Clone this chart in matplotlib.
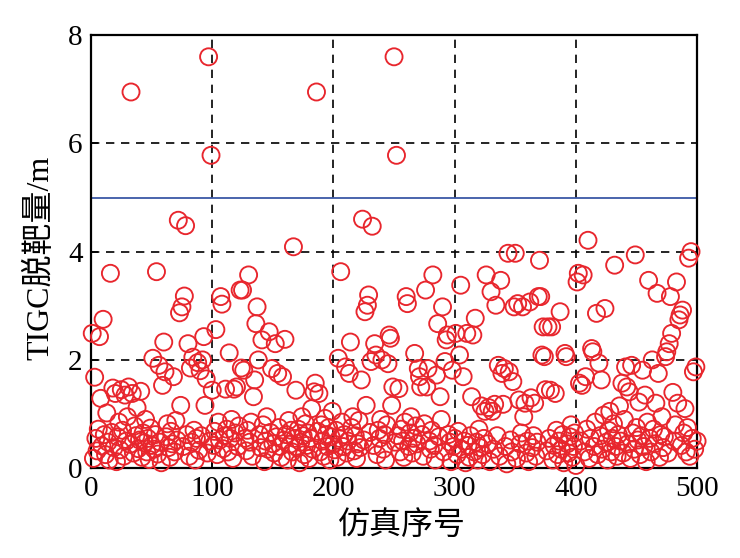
import matplotlib
matplotlib.use("Agg")
import matplotlib.pyplot as plt
import numpy as np

# simulation index 1..500 and miss distance (m)
sim_index = list(range(1, 501))
miss = [
    2.49, 0.18, 1.68, 0.55, 0.32, 0.72, 2.43, 1.29, 0.41, 2.75,
    0.62, 0.25, 1.02, 0.48, 0.15, 3.60, 0.66, 1.48, 0.38, 1.38,
    0.12, 0.58, 0.85, 0.34, 1.45, 0.70, 0.22, 1.35, 0.50, 0.95,
    1.50, 0.44, 6.95, 1.38, 0.28, 0.78, 0.60, 1.12, 0.36, 0.52,
    1.42, 0.20, 0.65, 0.47, 0.90, 0.30, 0.55, 0.16, 0.74, 0.42,
    2.03, 0.35, 0.62, 3.63, 0.26, 1.90, 0.48, 0.10, 1.53, 2.33,
    1.78, 0.58, 0.82, 0.38, 0.20, 0.68, 0.45, 1.69, 0.30, 0.88,
    0.52, 4.58, 2.87, 1.16, 2.98, 0.40, 3.18, 4.48, 0.62, 2.30,
    0.22, 1.85, 0.48, 2.05, 0.70, 0.15, 0.55, 1.95, 0.33, 1.80,
    0.60, 2.00, 2.43, 1.16, 1.65, 0.28, 7.60, 0.50, 5.78, 1.44,
    0.42, 0.68, 2.56, 0.25, 0.85, 0.52, 3.17, 3.03, 0.36, 0.60,
    1.46, 0.72, 0.30, 2.13, 0.55, 0.90, 0.18, 1.46, 0.65, 1.50,
    0.40, 0.78, 3.29, 1.85, 3.29, 1.81, 0.55, 0.32, 0.70, 3.57,
    0.48, 0.85, 0.22, 1.32, 1.63, 2.67, 2.98, 2.00, 0.62, 0.38,
    2.37, 0.80, 0.12, 0.50, 0.95, 0.35, 2.52, 0.66, 1.84, 0.45,
    0.28, 2.30, 0.58, 1.75, 0.75, 0.40, 0.20, 1.69, 0.52, 2.38,
    0.62, 0.15, 0.88, 0.44, 0.70, 0.30, 4.09, 0.55, 1.44, 0.38,
    0.72, 0.10, 0.48, 0.95, 0.60, 0.25, 0.82, 0.42, 0.65, 0.18,
    0.55, 1.10, 0.35, 1.41, 1.57, 6.95, 0.68, 1.38, 0.30, 0.80,
    0.50, 0.22, 0.92, 0.62, 0.40, 0.75, 0.15, 0.58, 1.05, 0.45,
    0.34, 0.70, 0.20, 2.03, 0.55, 3.63, 0.85, 0.40, 0.62, 1.87,
    0.28, 0.50, 1.75, 2.33, 0.75, 0.95, 0.32, 0.60, 0.18, 0.45,
    0.88, 0.38, 1.63, 4.60, 0.52, 2.89, 1.16, 3.01, 3.20, 0.66,
    1.97, 4.47, 0.42, 2.30, 2.09, 0.25, 0.70, 0.55, 0.90, 2.00,
    0.35, 0.62, 0.15, 0.80, 1.93, 2.46, 2.40, 1.16, 1.50, 7.60,
    0.48, 5.78, 0.60, 1.47, 0.30, 0.72, 0.50, 0.20, 0.85, 3.17,
    3.04, 0.40, 0.65, 0.95, 0.28, 0.55, 2.12, 0.78, 0.45, 1.84,
    1.69, 1.50, 0.62, 0.22, 0.82, 3.29, 1.50, 1.84, 0.50, 0.35,
    0.70, 3.57, 0.42, 0.15, 1.72, 2.67, 0.58, 1.32, 0.90, 2.98,
    0.30, 1.97, 2.37, 2.46, 0.62, 0.48, 0.12, 1.81, 0.40, 0.55,
    2.49, 0.25, 0.68, 2.09, 3.38, 0.35, 1.69, 0.50, 0.10, 2.49,
    0.42, 0.20, 0.60, 1.32, 2.46, 0.30, 2.77, 0.48, 0.15, 0.72,
    0.38, 1.15, 0.25, 0.55, 1.05, 3.57, 0.45, 1.12, 0.12, 3.26,
    1.05, 0.35, 1.18, 3.01, 0.60, 1.90, 0.22, 3.47, 1.75, 1.18,
    1.84, 0.40, 0.08, 3.97, 1.78, 0.52, 0.30, 1.60, 2.98, 3.97,
    0.18, 3.04, 1.26, 0.45, 0.65, 2.98, 0.95, 1.20, 0.28, 0.50,
    0.12, 3.07, 1.30, 0.38, 0.60, 1.20, 0.22, 0.48, 3.17, 3.84,
    3.17, 2.09, 2.61, 2.06, 1.45, 0.32, 2.61, 0.55, 1.44, 2.61,
    0.15, 0.42, 1.38, 0.70, 0.25, 0.50, 2.89, 0.35, 0.62, 0.10,
    2.12, 2.06, 0.45, 0.28, 0.58, 0.80, 0.20, 0.40, 0.65, 0.05,
    3.44, 3.60, 1.57, 0.50, 1.53, 3.57, 0.30, 1.69, 0.72, 4.21,
    0.18, 0.55, 2.21, 2.15, 0.40, 0.85, 2.86, 0.25, 1.94, 0.60,
    1.63, 0.35, 0.98, 2.95, 0.48, 0.15, 0.70, 1.05, 0.30, 0.55,
    0.82, 3.75, 0.40, 0.22, 0.62, 1.15, 0.50, 1.57, 0.28, 0.90,
    1.87, 1.50, 0.45, 1.41, 0.18, 1.90, 0.65, 0.35, 3.94, 0.75,
    0.52, 1.22, 0.25, 0.60, 1.81, 0.40, 1.35, 0.12, 0.85, 3.47,
    0.55, 0.30, 2.00, 0.72, 0.45, 1.20, 3.23, 1.75, 0.20, 0.62,
    0.95, 0.38, 0.58, 2.06, 2.15, 0.28, 2.30, 3.17, 2.49, 1.40,
    0.50, 0.80, 3.44, 1.20, 2.74, 2.83, 0.42, 2.92, 0.65, 1.10,
    0.30, 0.75, 3.88, 0.22, 4.00, 0.55, 1.78, 0.35, 1.87, 0.50,
]
threshold = 5.0
x_ticks = [0, 100, 200, 300, 400, 500]
y_ticks = [0, 2, 4, 6, 8]

fam = ['Liberation Serif', 'Noto Sans CJK SC', 'DejaVu Sans']
plt.rcParams['font.family'] = fam

fig = plt.figure(figsize=(7.4, 5.58), dpi=100)
ax = fig.add_axes([0.123, 0.161, 0.819, 0.776])

ax.scatter(sim_index, miss, s=150, facecolors='none', edgecolors='#e8262d',
           linewidths=1.35, clip_on=False, zorder=3)
ax.axhline(threshold, color='#3b58a6', lw=1.3, zorder=2)

ax.set_xlim(0, 500)
ax.set_ylim(0, 8)
ax.set_xticks(x_ticks)
ax.set_yticks(y_ticks)
ax.grid(True, color='black', linestyle=(0, (5, 4)), linewidth=1.2, zorder=1)
ax.set_axisbelow(True)
for sp in ax.spines.values():
    sp.set_linewidth(1.6)
    sp.set_color('black')
ax.tick_params(direction='in', length=5, width=1.2, labelsize=21, pad=6,
               top=False, right=False)

xl = ax.set_xlabel('仿真序号', fontsize=23, family=fam)
yl = ax.set_ylabel('TIGC脱靶量/m', fontsize=23, family=fam)
xl.set_verticalalignment('center')
yl.set_verticalalignment('center')
ax.xaxis.set_label_coords(0.513, -0.134)
ax.yaxis.set_label_coords(-0.084, 0.485)

fig.savefig('out.png', dpi=100)
